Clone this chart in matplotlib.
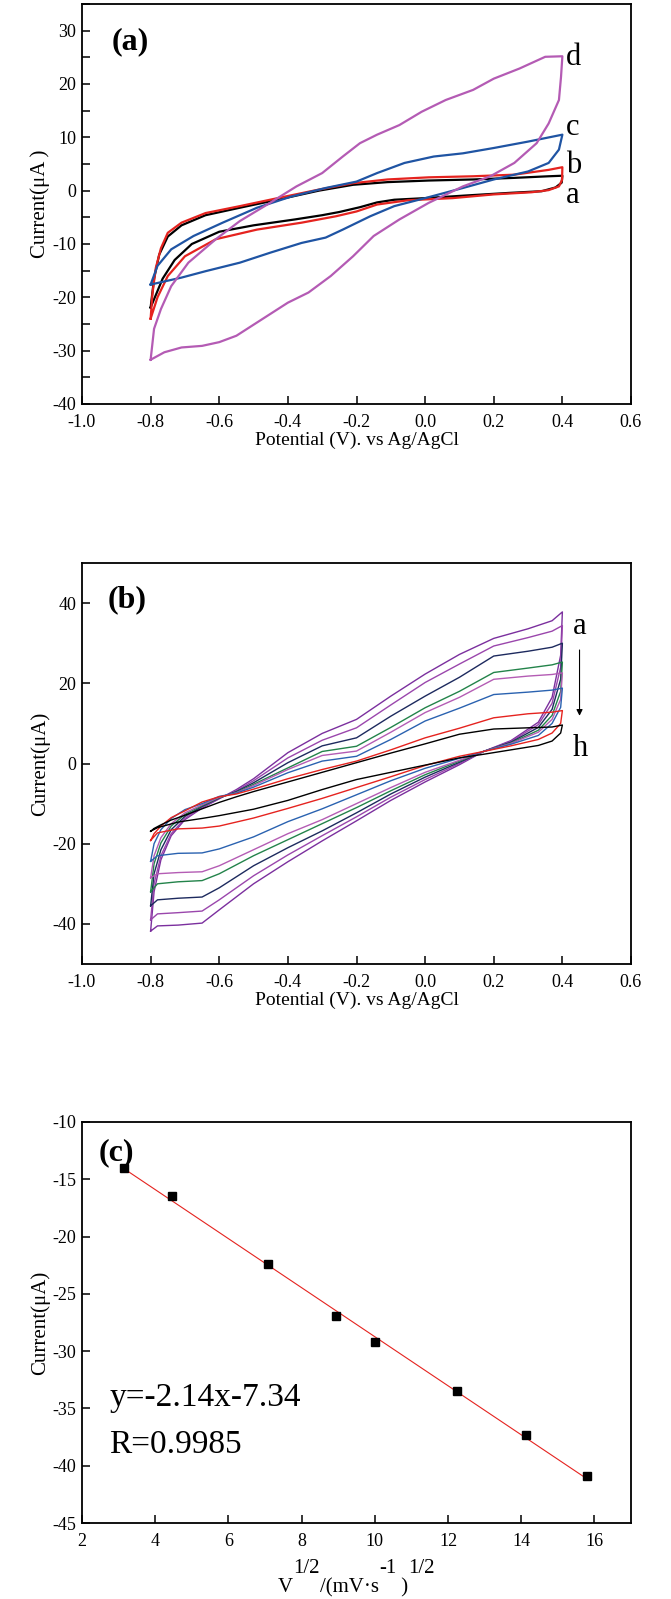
import matplotlib
matplotlib.use("Agg")
import matplotlib.pyplot as plt
from matplotlib.ticker import MultipleLocator, FormatStrFormatter

plt.rcParams['font.family'] = ['Liberation Serif', 'DejaVu Serif']
plt.rcParams['axes.unicode_minus'] = False

# ---- (a) CV curves a-d ----
a_fwd_x = [-0.8, -0.79, -0.775, -0.75, -0.71, -0.64, -0.54, -0.43, -0.31, -0.21, -0.11, 0.01, 0.14, 0.26, 0.36, 0.4]
a_fwd_y = [-21.9, -16.5, -12.0, -8.6, -6.5, -4.6, -3.2, -1.7, 0.0, 1.1, 1.6, 1.9, 2.1, 2.4, 2.7, 2.8]
a_rev_x = [0.4, 0.398, 0.38, 0.34, 0.25, 0.12, 0.0, -0.09, -0.14, -0.19, -0.25, -0.30, -0.38, -0.50, -0.60, -0.68, -0.73, -0.765, -0.8]
a_rev_y = [2.8, 1.5, 0.6, -0.1, -0.4, -0.9, -1.4, -1.7, -2.2, -3.1, -4.0, -4.6, -5.4, -6.5, -7.7, -10.0, -13.0, -16.5, -21.9]

b_fwd_x = [-0.8, -0.795, -0.785, -0.77, -0.75, -0.71, -0.64, -0.54, -0.43, -0.31, -0.21, -0.11, 0.01, 0.14, 0.26, 0.36, 0.4]
b_fwd_y = [-24.0, -19.5, -14.5, -10.8, -7.9, -6.0, -4.2, -2.9, -1.4, 0.2, 1.4, 2.1, 2.5, 2.7, 3.0, 3.9, 4.4]
b_rev_x = [0.4, 0.399, 0.39, 0.36, 0.31, 0.2, 0.08, -0.05, -0.14, -0.2, -0.26, -0.36, -0.49, -0.61, -0.7, -0.75, -0.78, -0.8]
b_rev_y = [4.4, 2.0, 0.8, 0.1, -0.3, -0.7, -1.4, -1.8, -2.6, -3.9, -4.8, -6.0, -7.3, -9.1, -12.3, -16.0, -20.0, -24.0]

c_fwd_x = [-0.8, -0.78, -0.74, -0.675, -0.59, -0.49, -0.39, -0.29, -0.2, -0.14, -0.06, 0.025, 0.11, 0.2, 0.3, 0.4]
c_fwd_y = [-17.6, -14.1, -11.0, -8.5, -6.0, -3.2, -1.1, 0.5, 1.7, 3.3, 5.2, 6.4, 7.0, 8.0, 9.2, 10.5]
c_rev_x = [0.4, 0.39, 0.36, 0.3, 0.2, 0.11, 0.0, -0.09, -0.16, -0.24, -0.29, -0.36, -0.45, -0.54, -0.64, -0.71, -0.8]
c_rev_y = [10.5, 7.7, 5.2, 3.6, 2.1, 0.5, -1.4, -2.9, -4.8, -7.3, -8.8, -9.8, -11.6, -13.5, -15.1, -16.3, -17.6]

d_fwd_x = [-0.8, -0.79, -0.77, -0.74, -0.69, -0.61, -0.54, -0.46, -0.375, -0.3, -0.24, -0.19, -0.14, -0.075, -0.01, 0.06, 0.14, 0.2, 0.275, 0.35, 0.4]
d_fwd_y = [-31.7, -25.9, -22.2, -17.9, -13.5, -9.1, -5.7, -2.6, 0.8, 3.3, 6.4, 8.9, 10.5, 12.3, 14.8, 17.0, 18.9, 21.0, 22.9, 25.1, 25.2]
d_rev_x = [0.4, 0.396, 0.39, 0.36, 0.325, 0.26, 0.19, 0.11, 0.01, -0.075, -0.15, -0.21, -0.275, -0.34, -0.4, -0.475, -0.55, -0.6, -0.65, -0.71, -0.76, -0.8]
d_rev_y = [25.2, 21.3, 17.0, 12.6, 8.9, 5.2, 2.7, 0.8, -2.3, -5.4, -8.5, -12.3, -16.0, -19.1, -21.0, -24.1, -27.2, -28.4, -29.1, -29.4, -30.3, -31.7]

# ---- (b) CV at different scan rates, curves a (outer) to h (inner) ----
scan_up_x = [-0.8, -0.79, -0.77, -0.74, -0.7, -0.65, -0.6, -0.55, -0.5, -0.4, -0.3, -0.2, -0.1, 0.0, 0.1, 0.2, 0.3, 0.37, 0.4]
scan_up_y = [
    [-41.8, -32.0, -24.0, -18.0, -14.0, -11.1, -8.8, -6.5, -3.8, 2.7, 7.5, 11.0, 16.8, 22.3, 27.2, 31.2, 33.6, 35.6, 37.8],
    [-39.0, -30.0, -23.0, -17.5, -13.7, -10.9, -8.7, -6.8, -4.3, 1.4, 5.8, 8.9, 14.6, 20.2, 24.8, 29.3, 31.4, 33.0, 34.4],
    [-35.5, -27.5, -21.5, -16.5, -13.2, -10.7, -8.6, -7.0, -4.8, 0.2, 4.4, 6.4, 11.8, 16.8, 21.5, 26.8, 28.0, 29.0, 30.0],
    [-32.0, -25.0, -19.8, -15.6, -12.7, -10.5, -8.5, -7.2, -5.2, -1.1, 3.0, 4.3, 9.0, 13.9, 18.0, 22.7, 23.8, 24.6, 25.3],
    [-28.5, -23.0, -18.5, -15.0, -12.3, -10.3, -8.4, -7.3, -5.5, -1.5, 2.0, 3.1, 7.8, 12.7, 16.5, 21.0, 21.8, 22.2, 22.6],
    [-24.4, -20.0, -16.5, -13.7, -11.5, -10.0, -8.2, -7.4, -5.9, -2.3, 0.6, 1.8, 6.0, 10.6, 13.8, 17.2, 17.8, 18.3, 18.8],
    [-19.2, -17.5, -15.6, -13.5, -11.8, -9.6, -8.3, -7.6, -6.4, -3.8, -1.5, 0.6, 3.4, 6.4, 8.8, 11.4, 12.4, 12.8, 13.2],
    [-16.9, -16.2, -15.3, -14.1, -12.9, -11.3, -9.7, -8.3, -7.0, -4.6, -2.2, 0.2, 2.6, 4.9, 7.3, 8.6, 8.9, 9.1, 9.6],
]
scan_dn_x = [0.4, 0.395, 0.37, 0.33, 0.25, 0.17, 0.1, 0.0, -0.1, -0.2, -0.3, -0.4, -0.5, -0.6, -0.65, -0.72, -0.78, -0.8]
scan_dn_y = [
    [37.8, 27.0, 16.5, 10.3, 5.7, 3.0, -0.3, -4.6, -9.2, -14.3, -19.3, -24.5, -30.0, -36.5, -39.8, -40.3, -40.5, -41.8],
    [34.4, 24.0, 15.0, 9.7, 5.5, 3.0, 0.0, -4.0, -8.4, -13.3, -18.0, -22.8, -28.0, -34.0, -36.8, -37.2, -37.5, -39.0],
    [30.0, 21.0, 13.5, 9.0, 5.3, 3.0, 0.3, -3.4, -7.6, -12.3, -16.8, -21.0, -25.5, -31.0, -33.3, -33.6, -34.0, -35.5],
    [25.3, 18.0, 12.0, 8.3, 5.1, 3.0, 0.6, -2.8, -6.8, -11.0, -15.0, -19.0, -23.0, -27.5, -29.2, -29.5, -30.0, -32.0],
    [22.6, 16.0, 11.0, 7.8, 5.0, 3.0, 0.8, -2.2, -6.0, -10.0, -14.0, -17.5, -21.5, -25.5, -27.0, -27.2, -27.5, -28.5],
    [18.8, 14.0, 10.0, 7.0, 4.8, 3.0, 1.3, -1.2, -4.3, -7.8, -11.3, -14.5, -18.3, -21.3, -22.3, -22.4, -23.0, -24.4],
    [13.2, 10.0, 7.6, 6.0, 4.4, 3.0, 1.8, -0.5, -3.3, -6.0, -8.7, -11.2, -13.6, -15.6, -16.1, -16.3, -17.3, -19.2],
    [9.6, 7.6, 5.6, 4.5, 3.4, 2.3, 1.4, -0.4, -2.2, -4.0, -6.5, -9.2, -11.4, -13.0, -13.7, -14.6, -16.0, -16.9],
]
scan_colors = ['#7b2f9e', '#9a46ac', '#1d2a5e', '#23834a', '#b45cb4', '#2a62b0', '#e5231f', '#000000']

# ---- (c) peak current vs square root of scan rate ----
sqrt_v = [3.16, 4.47, 7.07, 8.94, 10.0, 12.25, 14.14, 15.81]
peak_i = [-14.0, -16.5, -22.4, -26.9, -29.2, -33.5, -37.3, -40.9]
slope, intercept = -2.14, -7.34

W, H = 671, 1599
fig = plt.figure(figsize=(W / 100, H / 100), dpi=100)

def box(top, bottom, left=82, right=631):
    return [left / W, 1 - bottom / H, (right - left) / W, (bottom - top) / H]

def style(ax, fs=13):
    ax.tick_params(direction='in', which='both', top=False, right=False, labelsize=fs, length=6, width=1.1, pad=4)
    ax.tick_params(which='minor', length=6)
    ax.tick_params(axis='x', pad=7)
    for s in ax.spines.values():
        s.set_linewidth(1.3)

# (a)
ax1 = fig.add_axes(box(4, 404))
cv_colors = ['#000000', '#e5231f', '#1f54a3', '#b45bb4']
loops = [(a_fwd_x, a_fwd_y, a_rev_x, a_rev_y), (b_fwd_x, b_fwd_y, b_rev_x, b_rev_y),
         (c_fwd_x, c_fwd_y, c_rev_x, c_rev_y), (d_fwd_x, d_fwd_y, d_rev_x, d_rev_y)]
for (fx, fy, rx, ry), col in zip(loops, cv_colors):
    ax1.plot(fx + rx, fy + ry, color=col, lw=1.6)
ax1.set_xlim(-1.0, 0.6)
ax1.set_ylim(-40, 35)
ax1.xaxis.set_major_locator(MultipleLocator(0.2))
ax1.xaxis.set_major_formatter(FormatStrFormatter('%.1f'))
ax1.yaxis.set_major_locator(MultipleLocator(10))
ax1.yaxis.set_minor_locator(MultipleLocator(5))
style(ax1)
ax1.set_xlabel('Potential (V). vs Ag/AgCl', fontsize=14, labelpad=1)
ax1.set_ylabel('Current(μA )', fontsize=15, labelpad=2)
ax1.text(-0.915, 28, '(a)', fontsize=23, fontweight='bold', va='center')
for lab, yy in zip(['a', 'b', 'c', 'd'], [-2.3, 3.3, 10.4, 23.6]):
    ax1.text(0.41, yy, lab, fontsize=22, va='baseline')

# (b)
ax2 = fig.add_axes(box(563, 964))
for yu, yd, col in zip(scan_up_y, scan_dn_y, scan_colors):
    ax2.plot(scan_up_x + scan_dn_x, yu + yd, color=col, lw=1.0)
ax2.set_xlim(-1.0, 0.6)
ax2.set_ylim(-50, 50)
ax2.xaxis.set_major_locator(MultipleLocator(0.2))
ax2.xaxis.set_major_formatter(FormatStrFormatter('%.1f'))
ax2.yaxis.set_major_locator(MultipleLocator(20))
style(ax2)
ax2.set_xlabel('Potential (V). vs Ag/AgCl', fontsize=14, labelpad=1)
ax2.set_ylabel('Current(μA)', fontsize=15, labelpad=2)
ax2.text(-0.925, 40.8, '(b)', fontsize=23, fontweight='bold', va='center')
ax2.text(0.43, 32.3, 'a', fontsize=22, va='baseline')
ax2.text(0.43, 1.8, 'h', fontsize=22, va='baseline')
ax2.annotate('', xy=(0.45, 11.2), xytext=(0.45, 29.0),
             arrowprops=dict(arrowstyle='-|>', color='black', lw=0.8, mutation_scale=9))

# (c)
ax3 = fig.add_axes(box(1122, 1523))
fit_x = [sqrt_v[0], sqrt_v[-1]]
fit_y = [slope * x + intercept for x in fit_x]
ax3.plot(fit_x, fit_y, color='#e5231f', lw=0.8)
ax3.plot(sqrt_v, peak_i, 's', color='black', ms=6)
ax3.set_xlim(2, 17)
ax3.set_ylim(-45, -10)
ax3.xaxis.set_major_locator(MultipleLocator(2))
ax3.yaxis.set_major_locator(MultipleLocator(5))
style(ax3)
ax3.set_ylabel('Current(μA)', fontsize=15, labelpad=2)
ax3.text(2.45, -12.7, '(c)', fontsize=23, fontweight='bold', va='center')
ax3.text(2.75, -34.8, 'y=%.2fx%.2f' % (slope, intercept), fontsize=24, va='baseline')
ax3.text(2.75, -38.9, 'R=0.9985', fontsize=24, va='baseline')

# x label of (c): Origin style, raised parts at full size
pieces = [('V', 0), ('1/2', 19), ('/(mV·s', 0), ('-1', 19), (' )', 0), ('1/2', 19)]
renderer = fig.canvas.get_renderer()
texts = []
x = 0.0
for s, dy in pieces:
    t = fig.text(x / W, 1 - (1592 - dy) / H, s, fontsize=15, va='baseline', ha='left')
    x += t.get_window_extent(renderer).width
    texts.append(t)
shift = (82 + 631) / 2 - x / 2
for t in texts:
    px, py = t.get_position()
    t.set_position((px + shift / W, py))

fig.savefig('out.png', dpi=100)
